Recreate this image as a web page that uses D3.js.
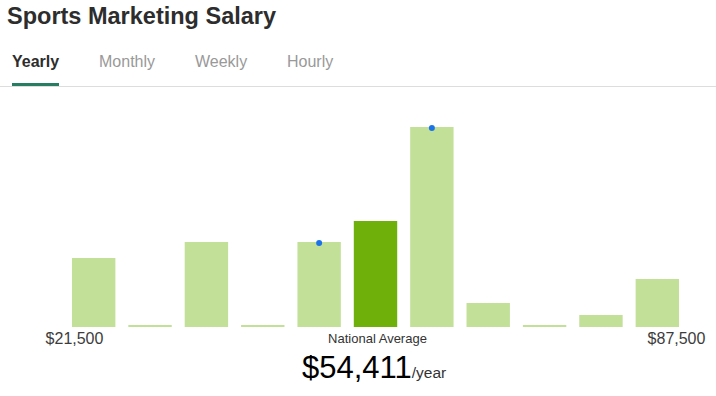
<!DOCTYPE html>
<html>
<head>
<meta charset="utf-8">
<script src="https://cdn.jsdelivr.net/npm/d3@7"></script>
<style>
  body { margin: 0; background: #fff; font-family: "Liberation Sans", Arial, sans-serif; }
</style>
</head>
<body>
<div id="chart"></div>
<script>
  const width = 716, height = 396

  // salary histogram (relative bar heights)
  const bins = ['b1','b2','b3','b4','b5','b6','b7','b8','b9','b10','b11']
  const counts = [69, 2, 85, 2, 85, 106, 200, 24, 2, 12, 48]
  const averageBin = 'b6'
  const markedBins = ['b5', 'b7']
  const tabs = ['Yearly', 'Monthly', 'Weekly', 'Hourly']
  const tabX = [12, 99, 195, 287]
  const minLabel = '$21,500', maxLabel = '$87,500'
  const average = '$54,411'

  const svg = d3.select('#chart').append('svg')
    .attr('width', width).attr('height', height)

  svg.append('text')
    .attr('x', 7).attr('y', 24)
    .attr('font-size', 23.5).attr('font-weight', 'bold')
    .attr('fill', '#2d2d2d')
    .text('Sports Marketing Salary')

  // tabs
  svg.selectAll('.tab').data(tabs).enter().append('text')
    .attr('class', 'tab')
    .attr('x', (d, i) => tabX[i]).attr('y', 67)
    .attr('font-size', 16)
    .attr('font-weight', (d, i) => i == 0 ? 'bold' : 'normal')
    .attr('fill', (d, i) => i == 0 ? '#2d2d2d' : '#999')
    .text(d => d)

  svg.append('rect').attr('x', 0).attr('y', 86).attr('width', width).attr('height', 1).attr('fill', '#ddd')
  svg.append('rect').attr('x', 12).attr('y', 83).attr('width', 47).attr('height', 3).attr('fill', '#267d62')

  const x = d3.scaleBand().domain(bins).range([65.5, 685.5])
    .paddingInner(0.23).paddingOuter(0.115)
  const y = d3.scaleLinear().domain([0, 200]).range([327, 127])

  svg.selectAll('.bar').data(bins).enter().append('rect')
    .attr('class', 'bar')
    .attr('x', d => x(d))
    .attr('width', x.bandwidth())
    .attr('y', (d, i) => y(counts[i]))
    .attr('height', (d, i) => y(0) - y(counts[i]))
    .attr('fill', d => d == averageBin ? '#6fb00a' : '#c3e098')

  svg.selectAll('.dot').data(markedBins).enter().append('circle')
    .attr('cx', d => x(d) + x.bandwidth() / 2)
    .attr('cy', d => y(counts[bins.indexOf(d)]) + 1)
    .attr('r', 3)
    .attr('fill', '#1a73e8')

  svg.append('text').attr('x', 74.5).attr('y', 344)
    .attr('text-anchor', 'middle').attr('font-size', 16).attr('fill', '#3c3c3c')
    .text(minLabel)
  svg.append('text').attr('x', 676.5).attr('y', 344)
    .attr('text-anchor', 'middle').attr('font-size', 16).attr('fill', '#3c3c3c')
    .text(maxLabel)

  const cx = x(averageBin) + x.bandwidth() / 2
  svg.append('text').attr('x', cx + 2).attr('y', 343)
    .attr('text-anchor', 'middle').attr('font-size', 13).attr('fill', '#333')
    .text('National Average')

  const avg = svg.append('text').attr('x', 302).attr('y', 378).attr('fill', '#000')
  avg.append('tspan').attr('font-size', 31).text(average)
  avg.append('tspan').attr('font-size', 15.5).attr('fill', '#333').text('/year')
</script>
</body>
</html>
